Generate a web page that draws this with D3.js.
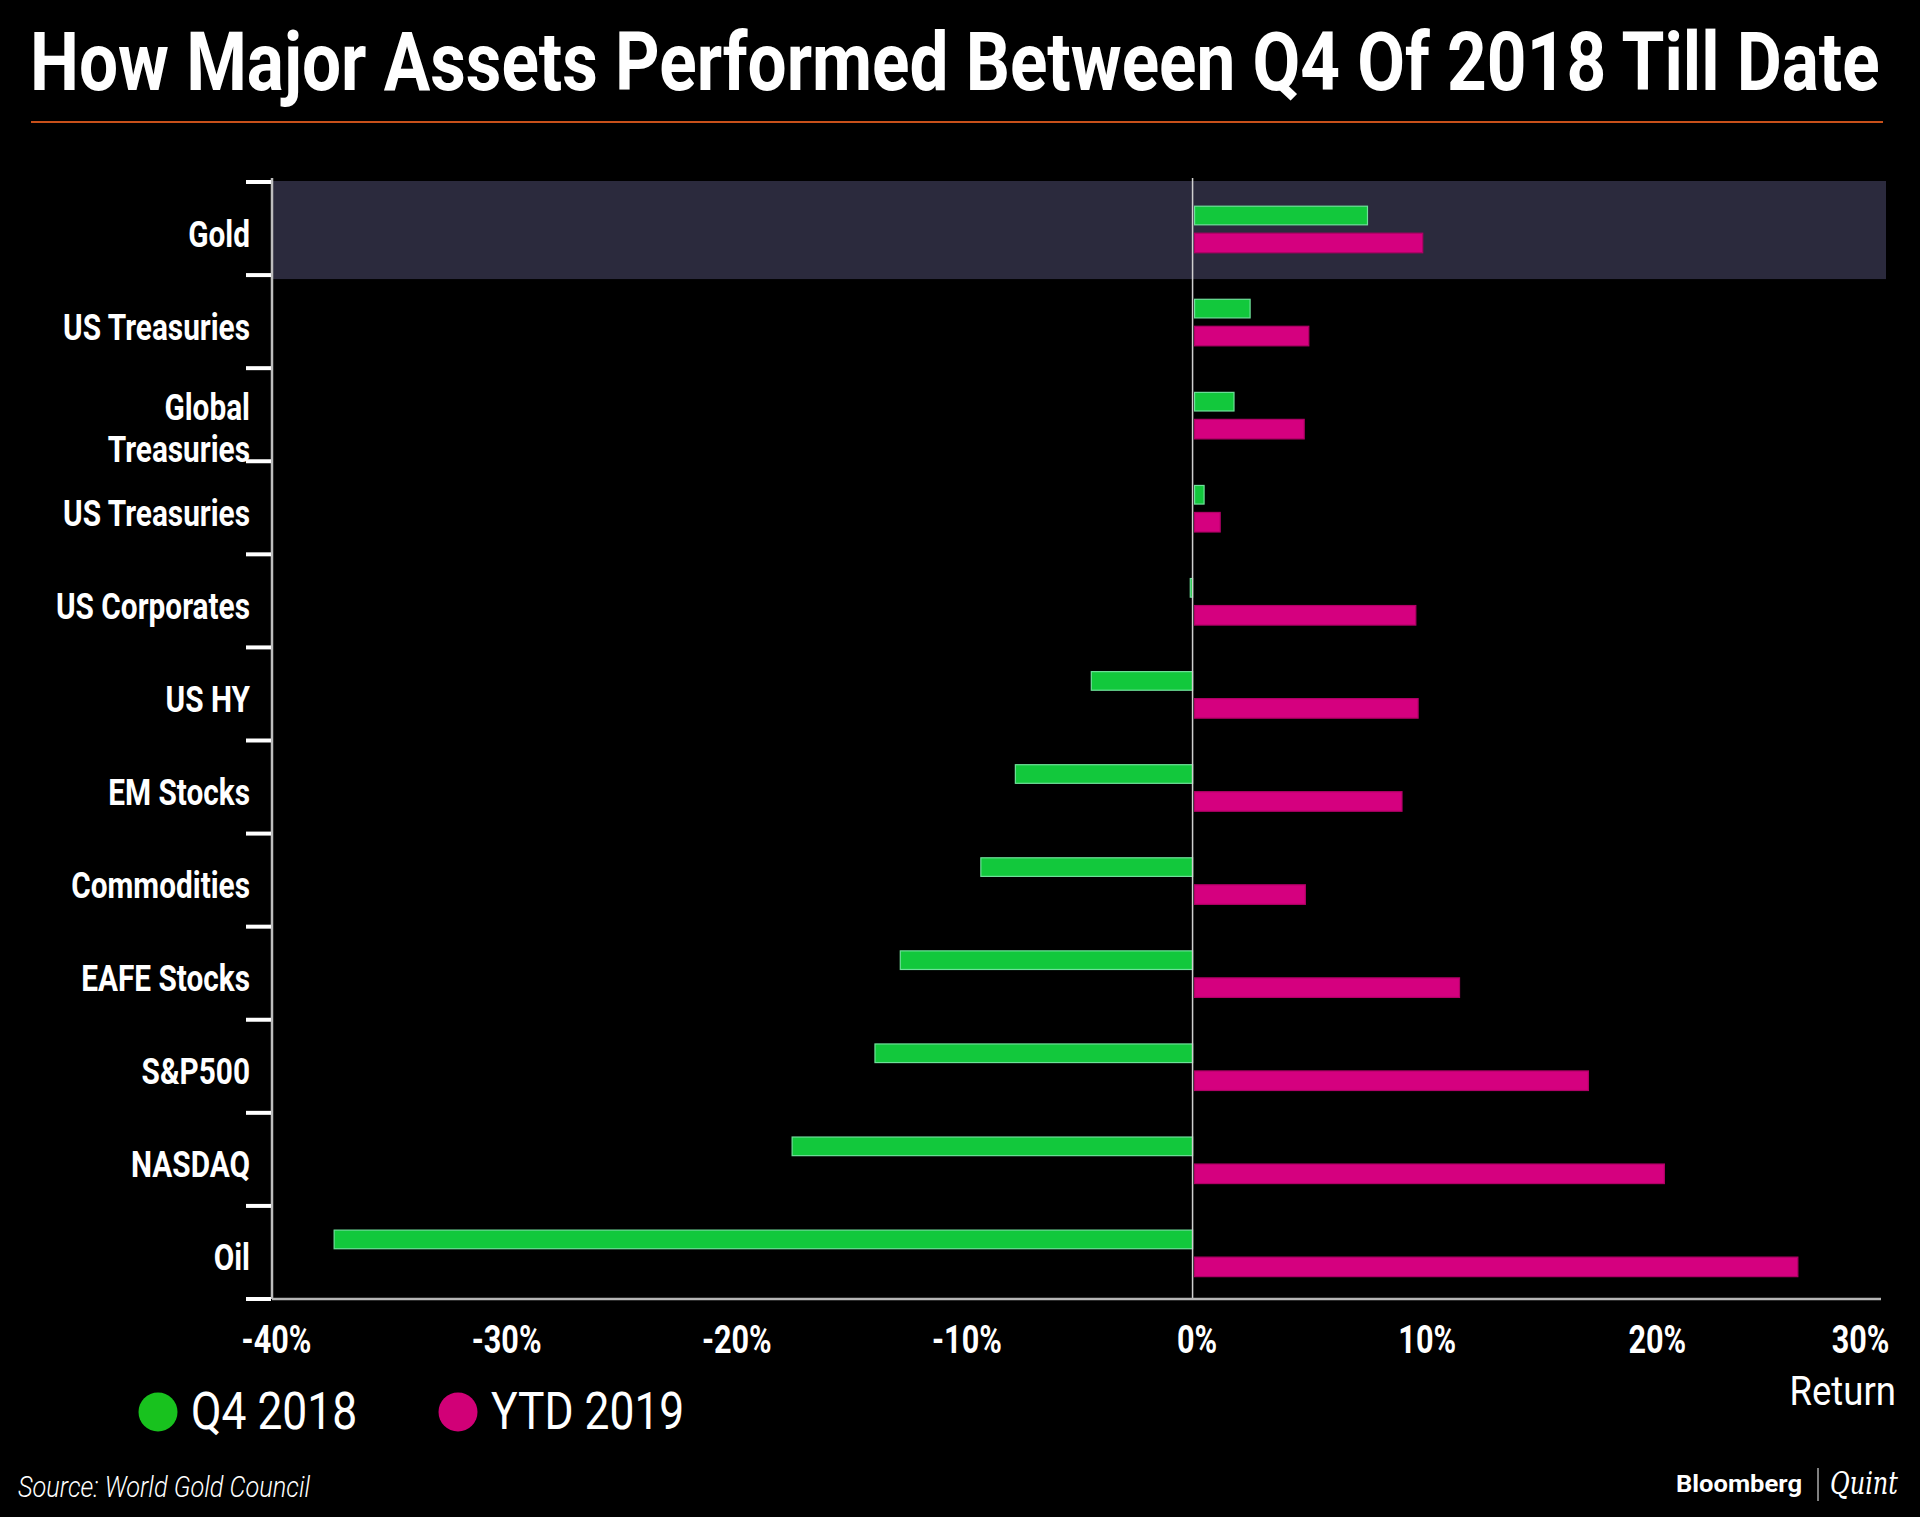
<!DOCTYPE html>
<html><head><meta charset="utf-8">
<script src="https://cdn.jsdelivr.net/npm/d3@7"></script>
<style>body{margin:0;background:#000;} svg{display:block;background:#000;}</style>
</head><body><svg id="c" width="1920" height="1517"></svg>
<script>
const categories = ["Gold","US Treasuries","Global\nTreasuries","US Treasuries","US Corporates","US HY","EM Stocks","Commodities","EAFE Stocks","S&P500","NASDAQ","Oil"];
const q4_2018  = [7.6, 2.5, 1.8, 0.5, -0.1, -4.4, -7.7, -9.2, -12.7, -13.8, -17.4, -37.3];
const ytd_2019 = [10.0, 5.05, 4.85, 1.2, 9.7, 9.8, 9.1, 4.9, 11.6, 17.2, 20.5, 26.3];
const xTicks = [-40, -30, -20, -10, 0, 10, 20, 30];
const seriesNames = ["Q4 2018", "YTD 2019"];
const seriesColors = ["#12c83c", "#d5007f"];
const legendColors = ["#18c21e", "#d10077"];
const highlightIndex = 0;
const titleText = "How Major Assets Performed Between Q4 Of 2018 Till Date";

const svg = d3.select("#c");
const FONT = "Roboto, 'Noto Sans', sans-serif";

// measure condensing factor
const probe = svg.append("text").attr("font-family", FONT).attr("font-weight", 700)
  .attr("font-size", 37).text("US Treasuries");
const pw = probe.node().getComputedTextLength();
probe.remove();
const K = pw > 0 ? 187 / pw : 0.75;
const KR = K * 1.08;

// Title (condensed with a scale so that its box stays inside the page)
const title = svg.append("text")
  .attr("font-family", FONT).attr("font-weight", 700).attr("font-size", 82)
  .attr("fill", "#fff").text(titleText);
const tw = title.node().getComputedTextLength();
const TK = tw > 0 ? 1850 / tw : 0.75;
title.attr("transform", `translate(30,90) scale(${TK},1)`);
svg.append("line").attr("x1", 31).attr("x2", 1883).attr("y1", 122).attr("y2", 122)
  .attr("stroke", "#c8501a").attr("stroke-width", 2);

// Scales
const x = d3.scaleLinear().domain([-40, 30]).range([272, 1883]);
const y = d3.scaleBand().domain(d3.range(categories.length)).range([182, 1299]).paddingInner(0).paddingOuter(0);
const bw = y.bandwidth();

// Highlight band
svg.append("rect").attr("x", x(-40)).attr("y", y(highlightIndex) - 1)
  .attr("width", 1886 - x(-40)).attr("height", bw + 5).attr("fill", "#2b2a3d");

// Bars
const rows = categories.map((c, i) => ({i, c, v: [q4_2018[i], ytd_2019[i]]}));
const barOff = [[0.26, 0.20], [0.55, 0.21]];
const g = svg.append("g");
rows.forEach(r => {
  r.v.forEach((v, s) => {
    const x0 = v >= 0 ? x(0) + 2 : x(v);
    const x1 = v >= 0 ? x(v) : x(0);
    g.append("rect")
      .attr("x", x0).attr("y", y(r.i) + bw * barOff[s][0])
      .attr("width", Math.max(1.5, x1 - x0)).attr("height", bw * barOff[s][1])
      .attr("fill", seriesColors[s])
      .attr("stroke", s === 0 ? "#6fe09a" : "#b00066").attr("stroke-width", 1.2);
  });
});

// Axes lines
svg.append("line").attr("x1", x(0)).attr("x2", x(0)).attr("y1", 178).attr("y2", 1299)
  .attr("stroke", "#d0d0d0").attr("stroke-width", 1.5);
svg.append("line").attr("x1", x(-40)).attr("x2", x(-40)).attr("y1", 178).attr("y2", 1299)
  .attr("stroke", "#bdbdbd").attr("stroke-width", 2.5);
svg.append("line").attr("x1", x(-40)).attr("x2", x(30) - 2).attr("y1", 1299).attr("y2", 1299)
  .attr("stroke", "#b5b5b5").attr("stroke-width", 2.5);

// Y ticks at band boundaries
const bounds = d3.range(categories.length).map(i => y(i)).concat([y(categories.length - 1) + bw]);
svg.append("g").selectAll("line").data(bounds).join("line")
  .attr("x1", 246).attr("x2", 271).attr("y1", d => d).attr("y2", d => d)
  .attr("stroke", "#fff").attr("stroke-width", 4);

// Category labels
rows.forEach(r => {
  const lines = r.c.split("\n");
  const base = y(r.i) + bw / 2 + (lines.length > 1 ? 5 : 18);
  lines.forEach((ln, j) => {
    svg.append("text")
      .attr("transform", `translate(250,${base + j * 42}) scale(${K},1)`)
      .attr("text-anchor", "end").attr("font-family", FONT).attr("font-weight", 700)
      .attr("font-size", 37).attr("fill", "#fff").text(ln);
  });
});

// X axis labels
const xAxis = d3.axisBottom(x).tickValues(xTicks).tickSize(0).tickFormat(d => d + "%");
const xa = svg.append("g").attr("transform", "translate(0,1299)").call(xAxis);
xa.select(".domain").remove();
xa.selectAll("text")
  .attr("y", 0).attr("dy", 0)
  .attr("font-family", FONT).attr("font-weight", 700).attr("font-size", 38)
  .attr("fill", "#fff")
  .attr("text-anchor", d => d === 30 ? "end" : "middle")
  .attr("transform", d => `translate(${d === 30 ? 6 : 4},54) scale(${K},1)`);

// Axis title
svg.append("text").attr("transform", `translate(1896,1405) scale(${KR * 1.05},1)`)
  .attr("text-anchor", "end").attr("font-family", FONT).attr("font-weight", 400)
  .attr("font-size", 40).attr("fill", "#fff").text("Return");

// Legend
const legX = [158, 458];
seriesNames.forEach((n, s) => {
  svg.append("circle").attr("cx", legX[s]).attr("cy", 1412).attr("r", 19.5).attr("fill", legendColors[s]);
  svg.append("text").attr("transform", `translate(${legX[s] + 33},1429) scale(${KR},1)`)
    .attr("font-family", FONT).attr("font-weight", 400).attr("font-size", 51)
    .attr("fill", "#fff").text(n);
});

// Source
svg.append("text").attr("x", 18).attr("y", 1497)
  .attr("font-family", FONT).attr("font-style", "italic").attr("font-weight", 300)
  .attr("font-size", 29).attr("fill", "#fff")
  .attr("textLength", 292).attr("lengthAdjust", "spacingAndGlyphs")
  .text("Source: World Gold Council");

// Logo
svg.append("text").attr("x", 1676).attr("y", 1492)
  .attr("font-family", FONT).attr("font-weight", 700).attr("font-size", 24)
  .attr("fill", "#fff").attr("textLength", 126).attr("lengthAdjust", "spacingAndGlyphs")
  .text("Bloomberg");
svg.append("line").attr("x1", 1818).attr("x2", 1818).attr("y1", 1468).attr("y2", 1501)
  .attr("stroke", "#fff").attr("stroke-width", 1);
svg.append("text").attr("x", 1830).attr("y", 1494)
  .attr("font-family", "'DejaVu Serif', 'Liberation Serif', serif").attr("font-style", "italic")
  .attr("font-size", 31).attr("fill", "#fff")
  .attr("textLength", 68).attr("lengthAdjust", "spacingAndGlyphs")
  .text("Quint");
</script></body></html>
